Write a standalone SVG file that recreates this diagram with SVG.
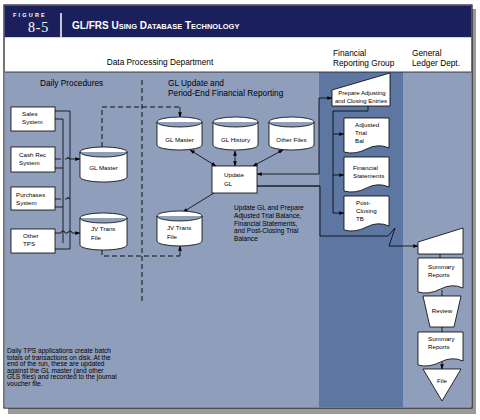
<svg xmlns="http://www.w3.org/2000/svg" width="480" height="420" viewBox="0 0 480 420">
<defs>
<marker id="ah" viewBox="0 0 8 8" refX="7.5" refY="4" markerWidth="5" markerHeight="5" orient="auto-start-reverse" markerUnits="userSpaceOnUse">
<path d="M0,1 L8,4 L0,7 Z" fill="#000"/>
</marker>
<style>
text{font-family:"Liberation Sans",Arial,sans-serif;fill:#000}
.sh{fill:#fff;stroke:#000;stroke-width:0.8}
.ln{fill:none;stroke:#000;stroke-width:0.8}
.ds{fill:none;stroke:#000;stroke-width:0.9;stroke-dasharray:5,3}
.lb{font-size:6.2px}
.sm{font-size:6px}
.hd{font-size:8.3px}
.nt{font-size:6.6px}
</style>
</defs>
<rect x="0" y="0" width="480" height="420" fill="#fff"/>
<!-- shadow -->
<rect x="8" y="9" width="468" height="405" fill="#9a9a9a"/>
<!-- frame -->
<rect x="4" y="5" width="468" height="403" fill="#fff" stroke="#1a1a1a" stroke-width="1.2"/>
<!-- title bar -->
<rect x="4.6" y="5.6" width="466.8" height="31.6" fill="#1b1f5c"/>
<line x1="61" y1="13" x2="61" y2="37" stroke="#fff" stroke-width="1.5"/>
<text x="13" y="16.5" font-size="5.5" font-weight="bold" letter-spacing="2.2" style="fill:#fff">FIGURE</text>
<text x="28" y="32" font-size="14" letter-spacing="0.8" style="fill:#fff;font-family:'Liberation Serif',serif">8-5</text>
<text x="72" y="29" font-size="10" font-weight="bold" style="fill:#fff">GL/FRS U<tspan font-size="7.5">SING</tspan> D<tspan font-size="7.5">ATABASE</tspan> T<tspan font-size="7.5">ECHNOLOGY</tspan></text>
<!-- body background -->
<rect x="4.6" y="72" width="466.8" height="335.4" fill="#8f9ebb"/>
<rect x="319" y="72" width="84" height="335.4" fill="#5d77a2"/>
<line x1="4.6" y1="72" x2="471.4" y2="72" stroke="#1a1a1a" stroke-width="0.8"/>
<!-- header texts -->
<text class="hd" x="160" y="65" text-anchor="middle">Data Processing Department</text>
<text class="hd" x="333" y="56">Financial</text>
<text class="hd" x="333" y="65.5">Reporting Group</text>
<text class="hd" x="412" y="56">General</text>
<text class="hd" x="412" y="65.5">Ledger Dept.</text>
<text class="hd" x="40" y="86">Daily Procedures</text>
<text class="hd" x="168" y="86">GL Update and</text>
<text class="hd" x="168" y="96">Period-End Financial Reporting</text>
<line x1="142" y1="80" x2="142" y2="302" class="ds"/>

<!-- connectors -->
<g id="connectors">
<path class="ln" d="M55,111 H70 V249 H55"/>
<path class="ln" d="M55,119 H63 V243"/>
<path class="ln" d="M55,168 H63"/>
<path class="ln" d="M55,207 H63"/>
<path class="ln" d="M55,159 H61 M65,159 H66 Q68,159 68,157 Q68,159 70,159 H80" marker-end="url(#ah)"/>
<path class="ln" d="M55,199 H61 M65,199 H66 Q68,199 68,197 Q68,199 70,199"/>
<path class="ln" d="M55,233 H61 A2,2 0 0 1 65,233 H68 A2,2 0 0 1 72,233 H80" marker-end="url(#ah)"/>
<path class="ds" d="M102,147 V107 H180"/>
<path class="ln" d="M180,107 V117" marker-end="url(#ah)"/>
<path class="ds" d="M102,250 V256 H180"/>
<path class="ln" d="M180,256 V246" marker-end="url(#ah)"/>
<path class="ln" d="M190,150 L216,166" marker-start="url(#ah)" marker-end="url(#ah)"/>
<path class="ln" d="M235,151 V166" marker-start="url(#ah)" marker-end="url(#ah)"/>
<path class="ln" d="M283,150 L253,166" marker-start="url(#ah)" marker-end="url(#ah)"/>
<path class="ln" d="M214,193 L183,212" marker-end="url(#ah)"/>
<path class="ln" d="M319,174 H257" marker-end="url(#ah)"/>
<path class="ln" d="M319,174 V98 H332" marker-end="url(#ah)"/>
<path d="M257,186 H320" fill="none" stroke="#3b3e4a" stroke-width="2"/>
<path class="ln" d="M320,186 V236 H388 L395,228 L389,246 H418" marker-end="url(#ah)"/>
<path class="ln" d="M368,106 V111 H333 V213 H344" marker-end="url(#ah)"/>
<path class="ln" d="M333,134 H344" marker-end="url(#ah)"/>
<path class="ln" d="M333,175 H344" marker-end="url(#ah)"/>
<path class="ln" d="M440,254 V258"/>
<path class="ln" d="M442,290 V296"/>
<path class="ln" d="M442,327 V332"/>
<path class="ln" d="M442,362 V369" marker-end="url(#ah)"/>
</g>

<!-- left systems -->
<g id="sales"><rect class="sh" x="11" y="107" width="44" height="24"/><text class="lb" x="22" y="115.5">Sales</text><text class="lb" x="22" y="123.5">System</text></g>
<g id="cashrec"><rect class="sh" x="11" y="147" width="44" height="25"/><text class="lb" x="19" y="157">Cash Rec</text><text class="lb" x="19" y="164.5">System</text></g>
<g id="purchases"><rect class="sh" x="11" y="187" width="44" height="23"/><text class="lb" x="16" y="197">Purchases</text><text class="lb" x="16" y="205">System</text></g>
<g id="othertps"><rect class="sh" x="11" y="229" width="44" height="24"/><text class="lb" x="23" y="238">Other</text><text class="lb" x="23" y="246">TPS</text></g>

<!-- left cylinders -->
<g id="glmaster1"><path class="sh" d="M80,152 A23.5,5 0 0 1 127,152 V177 A23.5,5 0 0 1 80,177 Z M80,152 A23.5,5 0 0 0 127,152"/><text class="lb" x="103.5" y="170" text-anchor="middle">GL Master</text></g>
<g id="jvtrans1"><path class="sh" d="M80,218 A23.5,5 0 0 1 127,218 V245 A23.5,5 0 0 1 80,245 Z M80,218 A23.5,5 0 0 0 127,218"/><text class="lb" x="91" y="231">JV Trans</text><text class="lb" x="91" y="240">File</text></g>

<!-- right cylinders -->
<g id="glmaster2"><path class="sh" d="M157,122 A22.5,5 0 0 1 202,122 V145 A22.5,5 0 0 1 157,145 Z M157,122 A22.5,5 0 0 0 202,122"/><text class="lb" x="179.5" y="142" text-anchor="middle">GL Master</text></g>
<g id="glhistory"><path class="sh" d="M213,122 A22.5,5 0 0 1 258,122 V145 A22.5,5 0 0 1 213,145 Z M213,122 A22.5,5 0 0 0 258,122"/><text class="lb" x="235.5" y="142" text-anchor="middle">GL History</text></g>
<g id="otherfiles"><path class="sh" d="M269,122 A22.5,5 0 0 1 314,122 V145 A22.5,5 0 0 1 269,145 Z M269,122 A22.5,5 0 0 0 314,122"/><text class="lb" x="291.5" y="142" text-anchor="middle">Other Files</text></g>
<g id="jvtrans2"><path class="sh" d="M157,216 A22.5,5 0 0 1 202,216 V241 A22.5,5 0 0 1 157,241 Z M157,216 A22.5,5 0 0 0 202,216"/><text class="lb" x="167" y="230">JV Trans</text><text class="lb" x="167" y="238.5">File</text></g>

<g id="updategl"><rect class="sh" x="212" y="166" width="45" height="27"/><text class="lb" x="224" y="177">Update</text><text class="lb" x="224" y="185.5">GL</text></g>

<text class="nt" x="234" y="210">Update GL and Prepare</text>
<text class="nt" x="234" y="218">Adjusted Trial Balance,</text>
<text class="nt" x="234" y="225.5">Financial Statements,</text>
<text class="nt" x="234" y="233">and Post-Closing Trial</text>
<text class="nt" x="234" y="241">Balance</text>

<!-- financial reporting group -->
<g id="prepare"><path class="sh" d="M332,90 L390,73 V106 H332 Z"/><text class="sm" x="362" y="95" text-anchor="middle">Prepare Adjusting</text><text class="sm" x="361" y="102.5" text-anchor="middle">and Closing Entries</text></g>
<g id="adjtb"><path class="sh" d="M344,118 H389 V148 Q378,143 366.5,149 T344,152 Z"/><text class="lb" x="355" y="127">Adjusted</text><text class="lb" x="355" y="135">Trial</text><text class="lb" x="355" y="143">Bal</text></g>
<g id="finstmt"><path class="sh" d="M344,157 H389 V187 Q378,182 366.5,188 T344,191 Z"/><text class="lb" x="353" y="170">Financial</text><text class="lb" x="353" y="178">Statements</text></g>
<g id="postclosing"><path class="sh" d="M344,196 H389 V226 Q378,221 366.5,227 T344,230 Z"/><text class="lb" x="356" y="205">Post-</text><text class="lb" x="356" y="213">Closing</text><text class="lb" x="356" y="221">TB</text></g>

<!-- general ledger dept -->
<g id="gldept"><path class="sh" d="M418,242 L463,228 V254 H418 Z"/></g>
<g id="summary1"><path class="sh" d="M418,258 H463 V288 Q452,283 440.5,289 T418,292 Z"/><text class="lb" x="428" y="269">Summary</text><text class="lb" x="428" y="277">Reports</text></g>
<g id="review"><path class="sh" d="M423,296 H461 L454,327 H430 Z"/><text class="lb" x="442" y="313" text-anchor="middle">Review</text></g>
<g id="summary2"><path class="sh" d="M418,332 H463 V361 Q452,356 440.5,362 T418,365 Z"/><text class="lb" x="428" y="341">Summary</text><text class="lb" x="428" y="349">Reports</text></g>
<g id="file"><path class="sh" d="M423,369 H461 L442,401 Z"/><text class="lb" x="442" y="383" text-anchor="middle">File</text></g>

<!-- note -->
<text class="nt" x="7" y="353">Daily TPS applications create batch</text>
<text class="nt" x="7" y="359.5">totals of transactions on disk.  At the</text>
<text class="nt" x="7" y="366">end of the run, these are updated</text>
<text class="nt" x="7" y="372.5">against the GL master (and other</text>
<text class="nt" x="7" y="379">GLS files) and recorded to the journal</text>
<text class="nt" x="7" y="385.5">voucher file.</text>
</svg>
